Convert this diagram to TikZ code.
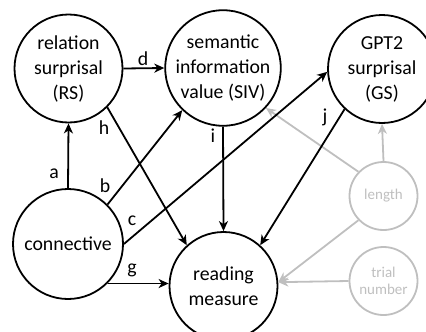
\documentclass[tikz,border=0pt]{standalone}
\usepackage{fontspec}
\setmainfont{Carlito}
\usetikzlibrary{arrows.meta}
\definecolor{faint}{HTML}{BFBFBF}
\tikzset{
  var/.style={circle, draw=black, line width=1.8pt, inner sep=0pt,
    minimum size=#1, align=center, font=\fontsize{19.8}{25}\selectfont},
  ctrl/.style={circle, draw=faint, line width=1.8pt, inner sep=0pt,
    minimum size=68pt, align=center, text=faint,
    font=\fontsize{15}{17}\selectfont},
  path/.style={line width=1.8pt, -{Stealth[length=10pt,width=9pt,inset=3pt]}},
  cpath/.style={path, draw=faint},
  lbl/.style={font=\fontsize{19.8}{24}\selectfont, inner sep=0pt}
}
\begin{document}
\begin{tikzpicture}[x=1pt, y=-1pt]
  \clip (0,0) rectangle (426,332);
  \useasboundingbox (0,0) rectangle (426,332);

  % variables
  \node[var=108pt] (rs)  at (68.5,68.5) {relation\\surprisal\\(RS)};
  \node[var=108pt] (siv) at (223,68)    {semantic\\information\\value (SIV)};
  \node[var=108pt] (gs)  at (382,69)    {GPT2\\surprisal\\(GS)};
  \node[var=110pt] (con) at (68,244)    {connective};
  \node[var=108pt] (rm)  at (223.5,286) {reading\\measure};

  % control variables
  \node[ctrl] (len)   at (383.5,196) {length};
  \node[ctrl] (trial) at (383.5,281) {trial\\number};

  % control paths
  \draw[cpath] (len.136.7) -- (siv.-43.6);
  \draw[cpath] (len.90) -- (gs.-90);
  \draw[cpath] (len.224.5) -- (rm.4);
  \draw[cpath] (trial.180) -- (rm.4);

  % causal paths
  \draw[path] (con.90) -- (rs.-90);
  \draw[path] (rs.0) -- (siv.180);
  \draw[path] (con.45) -- (siv.226.5);
  \draw[path] (con.0) -- (gs.183);
  \draw[path] (con.-45) -- (con.-45 -| rm.west);
  \draw[path] (rs.-45.7) -- (rm.132.6);
  \draw[path] (siv.-90) -- (rm.90);
  \draw[path] (gs.227.8) -- (rm.48.1);

  % path labels
  \node[lbl] (la) at (54,174)  {a};
  \node[lbl] (lb) at (105,186) {b};
  \node[lbl] (lc) at (132,221) {c};
  \node[lbl] (ld) at (143,59)  {d};
  \node[lbl] (lg) at (132,270) {g};
  \node[lbl] (lh) at (104,128) {h};
  \node[lbl] (li) at (213,136) {i};
  \node[lbl] (lj) at (325,117) {j};
\end{tikzpicture}
\end{document}
